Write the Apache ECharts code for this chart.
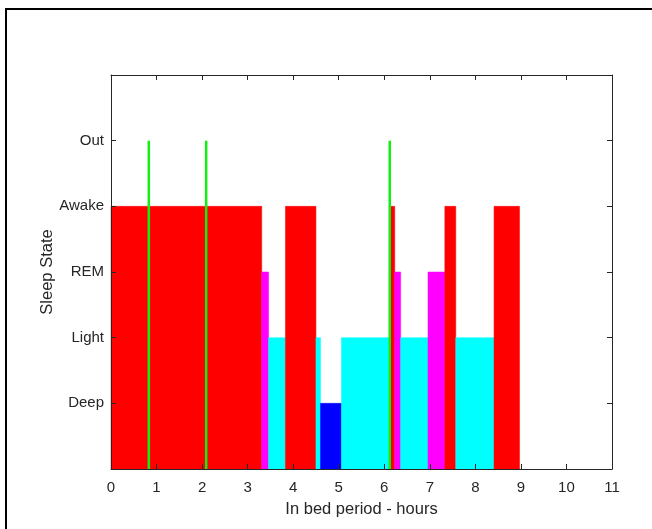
<!DOCTYPE html>
<html>
<head>
<meta charset="utf-8">
<script src="https://cdn.jsdelivr.net/npm/echarts@6/dist/echarts.min.js"></script>
<style>
  html, body { margin: 0; padding: 0; background: #fff; }
  #chart { width: 652px; height: 529px; }
</style>
</head>
<body>
<div id="chart"></div>
<script>
// sleep segments, hours from start of in-bed period
var segStart = [0, 3.31, 3.46, 3.83, 4.50, 4.60, 5.06, 6.13, 6.23, 6.36, 6.96, 7.33, 7.57, 8.41];
var segEnd   = [3.31, 3.46, 3.83, 4.50, 4.60, 5.06, 6.13, 6.23, 6.36, 6.96, 7.33, 7.57, 8.41, 8.97];
var segState = [4, 3, 2, 4, 2, 1, 2, 4, 3, 2, 3, 4, 2, 4];
// times out of bed
var outTimes = [0.83, 2.09, 6.12];
var stateNames = ['', 'Deep', 'Light', 'REM', 'Awake', 'Out', ''];
var stateColors = {1: '#0000ff', 2: '#00ffff', 3: '#ff00ff', 4: '#ff0000'};
var OUT_LEVEL = 5;

var dom = document.getElementById('chart');
var myChart = echarts.init(dom, null, { renderer: 'canvas' });

var segData = segStart.map(function (s, i) {
  return [s, segEnd[i], segState[i]];
});
var outData = outTimes.map(function (t) { return [t, OUT_LEVEL]; });

var txt = '#262626';
var font = 'Liberation Sans, Arial, sans-serif';

function boxAxis(extra) {
  // common look for the four box sides, ticks pointing in
  var a = {
    z: 5,
    axisLine: { show: true, onZero: false, lineStyle: { color: txt, width: 1 } },
    axisTick: { show: true, inside: true, length: 5, lineStyle: { color: txt } },
    splitLine: { show: false }
  };
  for (var k in extra) a[k] = extra[k];
  return a;
}

var option = {
  animation: false,
  backgroundColor: '#fff',
  grid: { left: 111, top: 75, right: 40, bottom: 60 },
  graphic: [{
    type: 'polyline',
    shape: { points: [[6, 529], [6, 9], [652, 9]] },
    style: { stroke: '#000', lineWidth: 2, fill: null }
  }],
  xAxis: [
    boxAxis({
      type: 'value', min: 0, max: 11, interval: 1, position: 'bottom',
      name: 'In bed period - hours', nameLocation: 'middle', nameGap: 32,
      nameTextStyle: { color: txt, fontSize: 16.5, fontFamily: font },
      axisLabel: { color: txt, fontSize: 15, fontFamily: font, margin: 11 }
    }),
    boxAxis({
      type: 'value', min: 0, max: 11, interval: 1, position: 'top',
      axisLabel: { show: false }
    })
  ],
  yAxis: [
    boxAxis({
      type: 'value', min: 0, max: 6, interval: 1, position: 'left',
      name: 'Sleep State', nameLocation: 'middle', nameGap: 55, nameRotate: 90,
      nameMoveOverlap: false,
      nameTextStyle: { color: txt, fontSize: 16.5, fontFamily: font },
      axisLabel: {
        color: txt, fontSize: 15, fontFamily: font, margin: 7,
        formatter: function (v) { return stateNames[v] || ''; }
      }
    }),
    boxAxis({
      type: 'value', min: 0, max: 6, interval: 1, position: 'right',
      axisLabel: { show: false }
    })
  ],
  series: [{
    type: 'custom',
    z: 2,
    data: segData,
    renderItem: function (params, api) {
      var p0 = api.coord([api.value(0), api.value(2)]);
      var p1 = api.coord([api.value(1), 0]);
      var c = stateColors[api.value(2)];
      return {
        type: 'rect',
        shape: { x: p0[0], y: p0[1], width: p1[0] - p0[0], height: p1[1] - p0[1] },
        style: { fill: c, stroke: c, lineWidth: 0.5 }
      };
    }
  }, {
    type: 'custom',
    z: 3,
    data: outData,
    renderItem: function (params, api) {
      var top = api.coord([api.value(0), api.value(1)]);
      var bot = api.coord([api.value(0), 0]);
      return {
        type: 'line',
        shape: { x1: top[0], y1: top[1], x2: bot[0], y2: bot[1] },
        style: { stroke: '#11ee11', lineWidth: 2.5 }
      };
    }
  }]
};

myChart.setOption(option);
window.addEventListener('resize', myChart.resize);
</script>
</body>
</html>
